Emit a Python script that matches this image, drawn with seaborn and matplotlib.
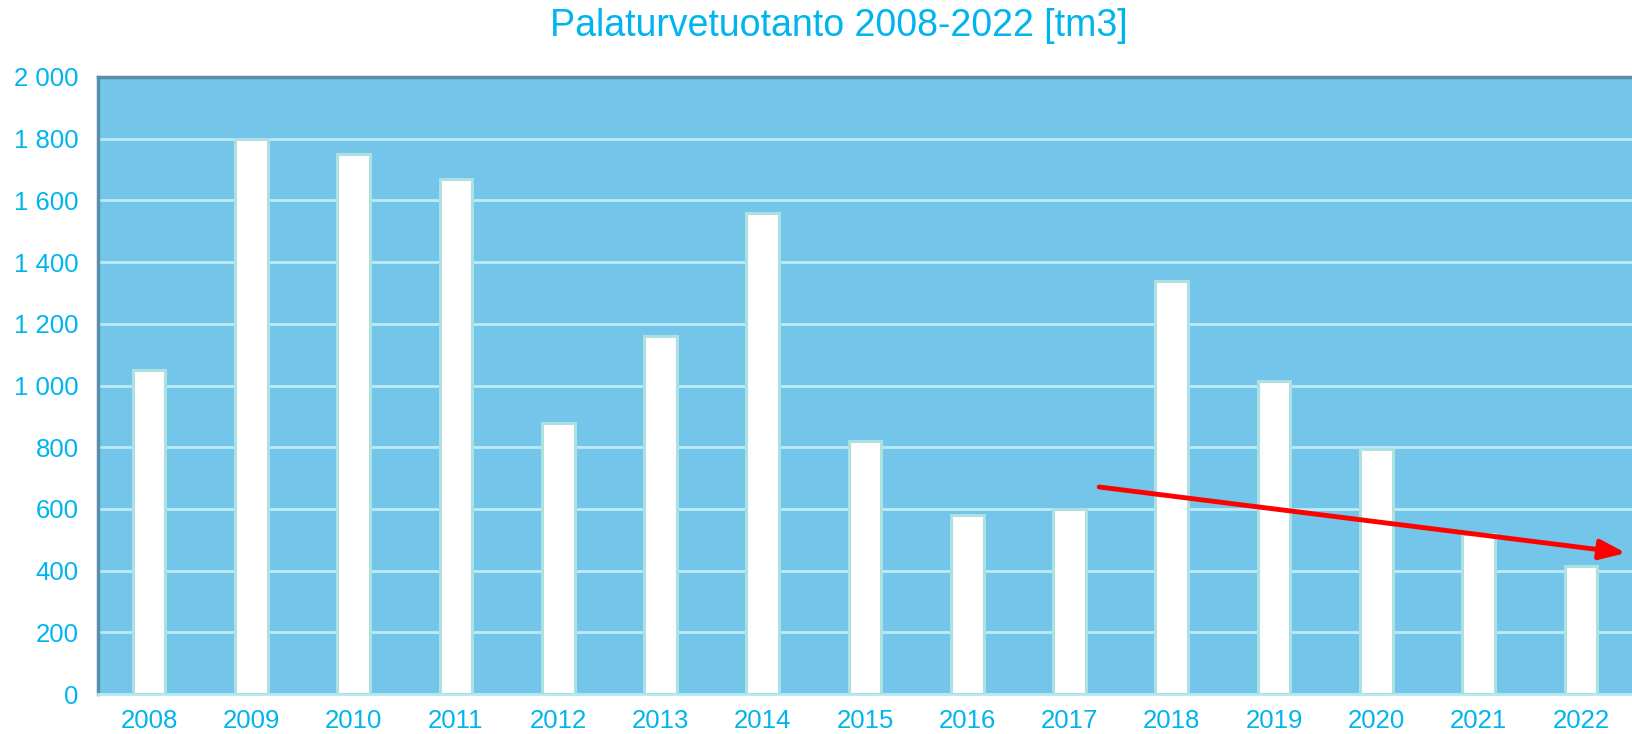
import matplotlib
matplotlib.use("Agg")
import matplotlib.pyplot as plt
from matplotlib.ticker import FuncFormatter
import pandas as pd
import seaborn as sns

# Palaturvetuotanto, tm3 (luettu kuvasta)
years = [str(y) for y in range(2008, 2023)]
production = [1050, 1800, 1750, 1670, 880, 1160, 1560, 820, 580, 600,
              1340, 1015, 795, 520, 415]

# trendinuoli 2017 -> 2022
arrow_start = (9.29, 671)
arrow_end = (14.44, 457)

df = pd.DataFrame({'vuosi': years, 'tuotanto': production})

sns.set_theme(style='white')
plt.rcParams['font.family'] = ['Liberation Sans', 'DejaVu Sans']

text_color = '#00B4EE'
bg_color = '#73C5E9'

fig = plt.figure(figsize=(16.32, 7.34), dpi=100)
ax = fig.add_axes([98 / 1632, 1 - 694 / 734, 1 - 98 / 1632, (694 - 77) / 734])
ax.set_facecolor(bg_color)

sns.barplot(data=df, x='vuosi', y='tuotanto', color='white', width=0.32,
            edgecolor='#ADE0E0', linewidth=2.2, saturation=1, ax=ax, zorder=3)

ax.set_ylim(0, 2000)
ax.set_xlim(-0.5, 14.5)
ax.set_yticks(range(0, 2001, 200))
ax.yaxis.set_major_formatter(FuncFormatter(lambda v, p: f'{int(v):,}'.replace(',', ' ')))
ax.grid(axis='y', color='#BDEBF8', linewidth=2, zorder=1)
ax.grid(axis='x', visible=False)
ax.set_axisbelow(True)

ax.set_xlabel('')
ax.set_ylabel('')
ax.tick_params(axis='both', length=0, labelsize=18.5, labelcolor=text_color)
ax.tick_params(axis='x', pad=11)
ax.tick_params(axis='y', pad=14)

for side in ['left', 'top']:
    ax.spines[side].set_color('#5A8FAA')
    ax.spines[side].set_linewidth(2.5)
ax.spines['bottom'].set_color('#B3E8F5')
ax.spines['bottom'].set_linewidth(2)
ax.spines['right'].set_visible(False)

ax.annotate('', xy=arrow_end, xytext=arrow_start,
            arrowprops=dict(arrowstyle='-|>,head_length=1.3,head_width=0.5',
                            color='#FF0000', lw=3.5, shrinkA=0, shrinkB=0),
            zorder=5)

fig.text(0.514, 1 - 26 / 734, 'Palaturvetuotanto 2008-2022 [tm3]',
         ha='center', va='center', fontsize=27, color=text_color)

fig.savefig('out.png', dpi=100)
